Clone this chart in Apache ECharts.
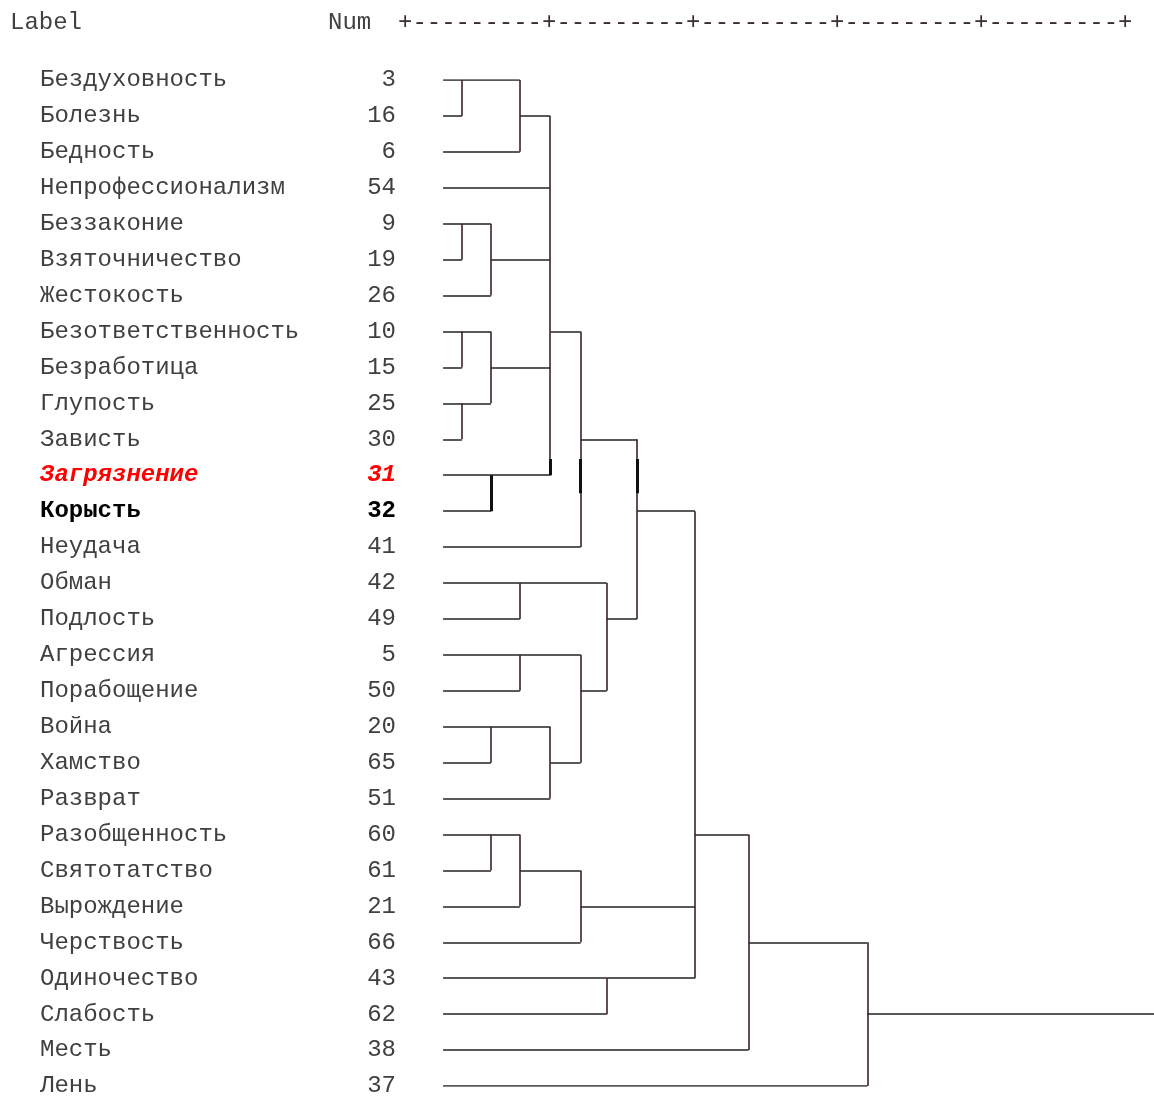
<!DOCTYPE html>
<html>
<head>
<meta charset="utf-8">
<script src="https://cdn.jsdelivr.net/npm/echarts@6/dist/echarts.min.js"></script>
<style>
html,body{margin:0;padding:0;background:#fff;}
#chart{width:1154px;height:1100px;}
</style>
</head>
<body>
<div id="chart"></div>
<script>
// ---- data ----
const rowLabels = ['Бездуховность','Болезнь','Бедность','Непрофессионализм','Беззаконие','Взяточничество','Жестокость','Безответственность','Безработица','Глупость','Зависть','Загрязнение','Корысть','Неудача','Обман','Подлость','Агрессия','Порабощение','Война','Хамство','Разврат','Разобщенность','Святотатство','Вырождение','Черствость','Одиночество','Слабость','Месть','Лень'];
const rowNums = [3,16,6,54,9,19,26,10,15,25,30,31,32,41,42,49,5,50,20,65,51,60,61,21,66,43,62,38,37];
const redRows = [11];
const boldRows = [12];

// merges: name, members (leaf row index or merge name), rescaled distance, row of outgoing line
const mergeNames   = ['A','B','C','D','E','F','G','H','I','J','K','M','N','O','P','Q','R','S','T','U','V','W','X','Y'];
const mergeMembers = [[0,1],['A',2],[4,5],['C',6],[7,8],[9,10],['E','F'],[11,12],['B',3,'D','G','H'],['I',13],[14,15],[16,17],[18,19],['N',20],['M','O'],['K','P'],['J','Q'],[21,22],['S',23],['T',24],[25,26],['R','U','V'],['W',27],['X',28]];
const mergeHeights = [2,4,2,3,2,2,3,3,5.05,6.1,4,4,3,5.05,6.1,7,8.05,3,4,6.1,7,10.05,11.9,16];
const mergeRows    = [0,1,4,5,7,9,8,11,7,10,14,16,18,19,17,15,12,21,22,23,25,21,24,26];
const leafStart = 1.35;
const rootEnd = 25.9;

// heavy (bold) vertical marks
const heavyX    = [3,5.05,6.1,8.05];
const heavyFrom = [11,10.55,10.55,10.55];
const heavyTo   = [12,11,11.5,11.5];

const rulerText = '+---------+---------+---------+---------+---------+';

// ---- build segments ----
const nodePos = {};
for (let i = 0; i < rowLabels.length; i++) nodePos[i] = {x: leafStart, row: i};
const hSegs = [], vSegs = [];
mergeNames.forEach((name, k) => {
  const h = mergeHeights[k];
  const rows = [];
  mergeMembers[k].forEach(m => {
    const p = nodePos[m];
    hSegs.push({coords: [[p.x, p.row], [h, p.row]]});
    rows.push(p.row);
  });
  vSegs.push({coords: [[h, Math.min(...rows)], [h, Math.max(...rows)]]});
  nodePos[name] = {x: h, row: mergeRows[k]};
});
const root = nodePos[mergeNames[mergeNames.length - 1]];
hSegs.push({coords: [[root.x, root.row], [rootEnd, root.row]]});
const heavySegs = heavyX.map((x, i) => ({coords: [[x, heavyFrom[i]], [x, heavyTo[i]]]}));

const FONT = 'Liberation Mono';
const TXT = '#404040';
const chart = echarts.init(document.getElementById('chart'));
chart.setOption({
  animation: false,
  backgroundColor: '#fff',
  grid: {left: 404, width: 751, top: 80, bottom: 14},
  xAxis: {type: 'value', min: 0, max: rootEnd, show: false},
  yAxis: {
    type: 'value', min: 0, max: rowLabels.length - 1, interval: 1, inverse: true,
    axisLine: {show: false}, axisTick: {show: false}, splitLine: {show: false},
    axisLabel: {
      show: true, margin: 8, showMinLabel: true, showMaxLabel: true,
      formatter: function (v) {
        const i = Math.round(v);
        if (Math.abs(v - i) > 1e-6 || i < 0 || i >= rowLabels.length) return '';
        let s = '';
        if (redRows.indexOf(i) >= 0) s = 'r';
        else if (boldRows.indexOf(i) >= 0) s = 'b';
        return '{l' + s + '|' + rowLabels[i] + '}{n' + s + '|' + rowNums[i] + '}';
      },
      rich: {
        l:  {width: 294, align: 'left',  fontFamily: FONT, fontSize: 24, color: TXT},
        n:  {width: 62,  align: 'right', fontFamily: FONT, fontSize: 24, color: TXT},
        lr: {width: 294, align: 'left',  fontFamily: FONT, fontSize: 24, color: '#ff0000', fontStyle: 'italic', fontWeight: 'bold'},
        nr: {width: 62,  align: 'right', fontFamily: FONT, fontSize: 24, color: '#ff0000', fontStyle: 'italic', fontWeight: 'bold'},
        lb: {width: 294, align: 'left',  fontFamily: FONT, fontSize: 24, color: '#000', fontWeight: 'bold'},
        nb: {width: 62,  align: 'right', fontFamily: FONT, fontSize: 24, color: '#000', fontWeight: 'bold'}
      }
    }
  },
  graphic: [
    {type: 'text', x: 10, y: 23, style: {text: 'Label', font: '24px ' + FONT, fill: TXT, verticalAlign: 'middle'}},
    {type: 'text', x: 328, y: 23, style: {text: 'Num', font: '24px ' + FONT, fill: TXT, verticalAlign: 'middle'}},
    {type: 'text', x: 398, y: 23, style: {text: rulerText, font: '24px ' + FONT, fill: '#3a2c2c', verticalAlign: 'middle'}}
  ],
  series: [
    {type: 'lines', coordinateSystem: 'cartesian2d', silent: true, data: hSegs,
     lineStyle: {color: '#222', width: 1.6, opacity: 1}},
    {type: 'lines', coordinateSystem: 'cartesian2d', silent: true, data: vSegs,
     lineStyle: {color: '#3a2424', width: 1.6, opacity: 1}},
    {type: 'lines', coordinateSystem: 'cartesian2d', silent: true, data: heavySegs,
     lineStyle: {color: '#111', width: 3, opacity: 1}}
  ]
});
</script>
</body>
</html>
